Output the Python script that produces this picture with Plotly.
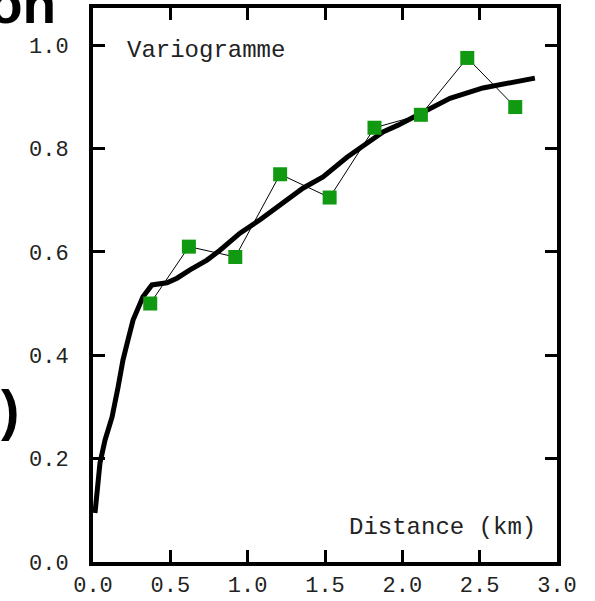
import plotly.graph_objects as go

# Empirical variogram points
lag_km = [0.37, 0.62, 0.92, 1.21, 1.53, 1.82, 2.12, 2.42, 2.73]
gamma_emp = [0.50, 0.61, 0.59, 0.75, 0.705, 0.84, 0.865, 0.975, 0.88]

# Fitted model curve
model_x = [0.013, 0.026, 0.045, 0.078, 0.123, 0.162, 0.194, 0.226, 0.259, 0.323,
           0.381, 0.478, 0.543, 0.627, 0.737, 0.821, 0.950, 1.080, 1.209, 1.357,
           1.487, 1.642, 1.771, 1.875, 1.972, 2.114, 2.308, 2.521, 2.696, 2.857]
model_y = [0.095, 0.139, 0.191, 0.236, 0.280, 0.338, 0.391, 0.429, 0.468, 0.513,
           0.536, 0.540, 0.549, 0.565, 0.584, 0.603, 0.636, 0.662, 0.691, 0.723,
           0.745, 0.783, 0.810, 0.832, 0.845, 0.868, 0.897, 0.917, 0.926, 0.936]

x_ticks = [0.0, 0.5, 1.0, 1.5, 2.0, 2.5, 3.0]
y_ticks = [0.0, 0.2, 0.4, 0.6, 0.8, 1.0]

mono = "Liberation Mono"

fig = go.Figure()
fig.add_trace(go.Scatter(x=lag_km, y=gamma_emp, mode="lines",
                         line=dict(color="black", width=1), showlegend=False,
                         hoverinfo="skip"))
fig.add_trace(go.Scatter(x=model_x, y=model_y, mode="lines",
                         line=dict(color="black", width=5), showlegend=False))
fig.add_trace(go.Scatter(x=lag_km, y=gamma_emp, mode="markers",
                         marker=dict(symbol="square", size=14, color="#119911",
                                     line=dict(width=0)),
                         showlegend=False))

fig.update_xaxes(range=[0, 3], tickvals=x_ticks,
                 ticktext=[f"{v:.1f}" for v in x_ticks],
                 showgrid=False, zeroline=False, automargin=False,
                 showline=True, linecolor="black", linewidth=4, mirror="ticks",
                 ticks="inside", ticklen=12, tickwidth=3, tickcolor="black",
                 tickfont=dict(family=mono, size=22, color="#222"),
                 ticklabelstandoff=0)
fig.update_yaxes(range=[0, 1.0716], tickvals=y_ticks,
                 ticktext=[f"{v:.1f}" for v in y_ticks],
                 showgrid=False, zeroline=False, automargin=False,
                 showline=True, linecolor="black", linewidth=4, mirror="ticks",
                 ticks="inside", ticklen=12, tickwidth=3, tickcolor="black",
                 tickfont=dict(family=mono, size=22, color="#222"),
                 ticklabelstandoff=16)

fig.add_annotation(x=0.207, y=0.99, xref="x", yref="y", text="Variogramme",
                   showarrow=False, xanchor="left", yanchor="middle",
                   font=dict(family=mono, size=24, color="#222"))
fig.add_annotation(x=2.877, y=0.066, xref="x", yref="y", text="Distance (km)",
                   showarrow=False, xanchor="right", yanchor="middle",
                   font=dict(family=mono, size=24, color="#222"))

# Fragments of the surrounding slide title text (cropped in the original)
fig.add_annotation(x=(58 - 93) / 464, y=1 + (8 - 4) / 554, xref="paper", yref="paper",
                   text="<b>on</b>", showarrow=False, xanchor="right", yanchor="middle",
                   font=dict(family="Liberation Sans", size=55, color="black"))
fig.add_annotation(x=(21 - 93) / 464, y=(562 - 410) / 554, xref="paper", yref="paper",
                   text="<b>)</b>", showarrow=False, xanchor="right", yanchor="middle",
                   font=dict(family="Liberation Sans", size=55, color="black"))

fig.update_layout(width=595, height=601,
                  margin=dict(l=93, r=38, t=8, b=39, pad=0),
                  paper_bgcolor="white", plot_bgcolor="white")

fig.write_html("out.html")
